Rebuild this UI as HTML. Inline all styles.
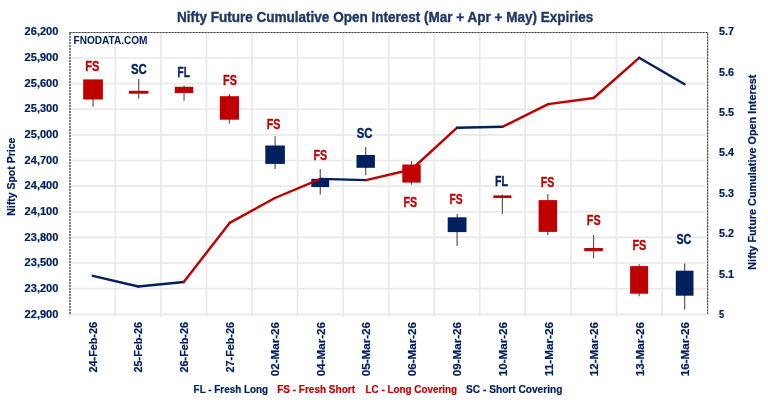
<!DOCTYPE html><html><head><meta charset="utf-8"><title>Nifty Future Cumulative Open Interest</title>
<style>html,body{margin:0;padding:0;background:#fff;}svg{display:block;filter:blur(0.35px);}text{font-family:"Liberation Sans", sans-serif;font-weight:bold;}.t{stroke-width:0.2px;}</style></head><body>
<svg width="768" height="404" viewBox="0 0 768 404">
<rect x="0" y="0" width="768" height="404" fill="#fff"/>
<path d="M70.8 57.98H706.1M70.8 83.61H706.1M70.8 109.24H706.1M70.8 134.87H706.1M70.8 160.50H706.1M70.8 186.13H706.1M70.8 211.76H706.1M70.8 237.39H706.1M70.8 263.02H706.1M70.8 288.65H706.1M70.8 314.28H706.1M115.36 32.5V317.1M160.91 32.5V317.1M206.47 32.5V317.1M252.03 32.5V317.1M297.59 32.5V317.1M343.14 32.5V317.1M388.70 32.5V317.1M434.26 32.5V317.1M479.81 32.5V317.1M525.37 32.5V317.1M570.93 32.5V317.1M616.49 32.5V317.1M662.04 32.5V317.1M69.8 314.1V317.1" stroke="#E9E9E9" stroke-width="1.7" fill="none"/>
<path d="M70.0 314.1V32.5" stroke="#404040" stroke-width="1.3" fill="none" stroke-dasharray="2.3 0.7"/>
<path d="M69.4 32.5H707.6V314.1" stroke="#404040" stroke-width="1.2" fill="none" stroke-dasharray="2.3 0.7"/>
<rect x="71" y="33.5" width="79" height="11" fill="#fff"/>
<text x="73.5" y="43.8" font-size="10.2" fill="#002060" textLength="74" lengthAdjust="spacingAndGlyphs">FNODATA.COM</text>
<path d="M93.05 80.0V106.8" stroke="#595959" stroke-width="1.2"/>
<rect x="83.2" y="79.4" width="19.7" height="20.1" fill="#C00000"/>
<path d="M138.70 78.9V98.4" stroke="#595959" stroke-width="1.2"/>
<rect x="129.0" y="90.8" width="19.4" height="2.9" fill="#C00000"/>
<path d="M184.05 85.5V100.7" stroke="#595959" stroke-width="1.2"/>
<rect x="174.8" y="86.8" width="18.5" height="6.2" fill="#C00000"/>
<path d="M229.40 94.0V123.5" stroke="#595959" stroke-width="1.2"/>
<rect x="219.8" y="96.2" width="19.2" height="23.5" fill="#C00000"/>
<path d="M275.10 136.3V168.9" stroke="#595959" stroke-width="1.2"/>
<rect x="265.3" y="145.5" width="19.6" height="18.4" fill="#002060"/>
<path d="M320.25 168.9V194.5" stroke="#595959" stroke-width="1.2"/>
<rect x="311.3" y="178.8" width="17.9" height="8.3" fill="#002060"/>
<path d="M365.70 147.0V175.2" stroke="#595959" stroke-width="1.2"/>
<rect x="356.5" y="155.0" width="18.4" height="12.8" fill="#002060"/>
<path d="M411.50 160.9V184.7" stroke="#595959" stroke-width="1.2"/>
<rect x="402.3" y="164.5" width="18.4" height="18.1" fill="#C00000"/>
<path d="M457.10 213.9V245.9" stroke="#595959" stroke-width="1.2"/>
<rect x="447.7" y="217.3" width="18.8" height="14.8" fill="#002060"/>
<path d="M502.40 194.6V213.9" stroke="#595959" stroke-width="1.2"/>
<rect x="493.3" y="195.4" width="18.2" height="2.6" fill="#C00000"/>
<path d="M547.85 193.9V235.0" stroke="#595959" stroke-width="1.2"/>
<rect x="538.6" y="200.1" width="18.5" height="31.8" fill="#C00000"/>
<path d="M593.55 235.0V258.4" stroke="#595959" stroke-width="1.2"/>
<rect x="584.2" y="248.0" width="18.7" height="3.1" fill="#C00000"/>
<path d="M639.10 264.3V296.2" stroke="#595959" stroke-width="1.2"/>
<rect x="630.1" y="266.1" width="18.0" height="27.6" fill="#C00000"/>
<path d="M684.65 263.5V309.6" stroke="#595959" stroke-width="1.2"/>
<rect x="675.8" y="270.7" width="17.7" height="25.0" fill="#002060"/>
<path d="M92.8 275.8L138.3 286.5" stroke="#002060" stroke-width="2.4" stroke-linecap="round" fill="none"/>
<path d="M138.3 286.5L183.8 282.0" stroke="#002060" stroke-width="2.4" stroke-linecap="round" fill="none"/>
<path d="M183.8 282.0L229.6 222.9" stroke="#C00000" stroke-width="2.4" stroke-linecap="round" fill="none"/>
<path d="M229.6 222.9L274.9 198.0" stroke="#C00000" stroke-width="2.4" stroke-linecap="round" fill="none"/>
<path d="M274.9 198.0L320.5 178.9" stroke="#C00000" stroke-width="2.4" stroke-linecap="round" fill="none"/>
<path d="M320.5 178.9L366.0 180.1" stroke="#002060" stroke-width="2.4" stroke-linecap="round" fill="none"/>
<path d="M366.0 180.1L411.5 169.5" stroke="#C00000" stroke-width="2.4" stroke-linecap="round" fill="none"/>
<path d="M411.5 169.5L457.1 127.7" stroke="#C00000" stroke-width="2.4" stroke-linecap="round" fill="none"/>
<path d="M457.1 127.7L502.6 126.8" stroke="#002060" stroke-width="2.4" stroke-linecap="round" fill="none"/>
<path d="M502.6 126.8L548.2 104.1" stroke="#C00000" stroke-width="2.4" stroke-linecap="round" fill="none"/>
<path d="M548.2 104.1L593.7 98.0" stroke="#C00000" stroke-width="2.4" stroke-linecap="round" fill="none"/>
<path d="M593.7 98.0L639.1 57.8" stroke="#C00000" stroke-width="2.4" stroke-linecap="round" fill="none"/>
<path d="M639.1 57.8L684.6 84.2" stroke="#002060" stroke-width="2.4" stroke-linecap="round" fill="none"/>
<text x="85.2" y="71.3" font-size="15.2" fill="#C00000" stroke="#C00000" stroke-width="0.35" textLength="14.2" lengthAdjust="spacingAndGlyphs">FS</text>
<text x="131.0" y="73.7" font-size="15.2" fill="#002060" stroke="#002060" stroke-width="0.35" textLength="15.8" lengthAdjust="spacingAndGlyphs">SC</text>
<text x="177.5" y="76.7" font-size="15.2" fill="#002060" stroke="#002060" stroke-width="0.35" textLength="12.3" lengthAdjust="spacingAndGlyphs">FL</text>
<text x="223.0" y="84.7" font-size="15.2" fill="#C00000" stroke="#C00000" stroke-width="0.35" textLength="13.9" lengthAdjust="spacingAndGlyphs">FS</text>
<text x="266.7" y="128.9" font-size="15.2" fill="#C00000" stroke="#C00000" stroke-width="0.35" textLength="13.7" lengthAdjust="spacingAndGlyphs">FS</text>
<text x="313.4" y="159.5" font-size="15.2" fill="#C00000" stroke="#C00000" stroke-width="0.35" textLength="13.7" lengthAdjust="spacingAndGlyphs">FS</text>
<text x="356.8" y="137.8" font-size="15.2" fill="#002060" stroke="#002060" stroke-width="0.35" textLength="15.7" lengthAdjust="spacingAndGlyphs">SC</text>
<text x="403.4" y="206.8" font-size="15.2" fill="#C00000" stroke="#C00000" stroke-width="0.35" textLength="13.7" lengthAdjust="spacingAndGlyphs">FS</text>
<text x="449.5" y="203.5" font-size="15.2" fill="#C00000" stroke="#C00000" stroke-width="0.35" textLength="13.1" lengthAdjust="spacingAndGlyphs">FS</text>
<text x="495.1" y="185.5" font-size="15.2" fill="#002060" stroke="#002060" stroke-width="0.35" textLength="13.0" lengthAdjust="spacingAndGlyphs">FL</text>
<text x="540.7" y="187.3" font-size="15.2" fill="#C00000" stroke="#C00000" stroke-width="0.35" textLength="13.5" lengthAdjust="spacingAndGlyphs">FS</text>
<text x="586.8" y="225.1" font-size="15.2" fill="#C00000" stroke="#C00000" stroke-width="0.35" textLength="13.8" lengthAdjust="spacingAndGlyphs">FS</text>
<text x="632.4" y="249.9" font-size="15.2" fill="#C00000" stroke="#C00000" stroke-width="0.35" textLength="13.9" lengthAdjust="spacingAndGlyphs">FS</text>
<text x="676.4" y="243.9" font-size="15.2" fill="#002060" stroke="#002060" stroke-width="0.35" textLength="14.9" lengthAdjust="spacingAndGlyphs">SC</text>
<text x="58.4" y="35.1" font-size="10.5" class="t" fill="#002060" stroke="#002060" text-anchor="end" textLength="33.8" lengthAdjust="spacingAndGlyphs">26,200</text>
<text x="58.4" y="60.8" font-size="10.5" class="t" fill="#002060" stroke="#002060" text-anchor="end" textLength="33.8" lengthAdjust="spacingAndGlyphs">25,900</text>
<text x="58.4" y="86.5" font-size="10.5" class="t" fill="#002060" stroke="#002060" text-anchor="end" textLength="33.8" lengthAdjust="spacingAndGlyphs">25,600</text>
<text x="58.4" y="112.2" font-size="10.5" class="t" fill="#002060" stroke="#002060" text-anchor="end" textLength="33.8" lengthAdjust="spacingAndGlyphs">25,300</text>
<text x="58.4" y="137.9" font-size="10.5" class="t" fill="#002060" stroke="#002060" text-anchor="end" textLength="33.8" lengthAdjust="spacingAndGlyphs">25,000</text>
<text x="58.4" y="163.6" font-size="10.5" class="t" fill="#002060" stroke="#002060" text-anchor="end" textLength="33.8" lengthAdjust="spacingAndGlyphs">24,700</text>
<text x="58.4" y="189.3" font-size="10.5" class="t" fill="#002060" stroke="#002060" text-anchor="end" textLength="33.8" lengthAdjust="spacingAndGlyphs">24,400</text>
<text x="58.4" y="215.0" font-size="10.5" class="t" fill="#002060" stroke="#002060" text-anchor="end" textLength="33.8" lengthAdjust="spacingAndGlyphs">24,100</text>
<text x="58.4" y="240.7" font-size="10.5" class="t" fill="#002060" stroke="#002060" text-anchor="end" textLength="33.8" lengthAdjust="spacingAndGlyphs">23,800</text>
<text x="58.4" y="266.4" font-size="10.5" class="t" fill="#002060" stroke="#002060" text-anchor="end" textLength="33.8" lengthAdjust="spacingAndGlyphs">23,500</text>
<text x="58.4" y="292.1" font-size="10.5" class="t" fill="#002060" stroke="#002060" text-anchor="end" textLength="33.8" lengthAdjust="spacingAndGlyphs">23,200</text>
<text x="58.4" y="317.8" font-size="10.5" class="t" fill="#002060" stroke="#002060" text-anchor="end" textLength="33.8" lengthAdjust="spacingAndGlyphs">22,900</text>
<text x="719" y="35.1" font-size="10.5" class="t" fill="#002060" stroke="#002060" textLength="15.0" lengthAdjust="spacingAndGlyphs">5.7</text>
<text x="719" y="75.5" font-size="10.5" class="t" fill="#002060" stroke="#002060" textLength="15.0" lengthAdjust="spacingAndGlyphs">5.6</text>
<text x="719" y="115.9" font-size="10.5" class="t" fill="#002060" stroke="#002060" textLength="15.0" lengthAdjust="spacingAndGlyphs">5.5</text>
<text x="719" y="156.3" font-size="10.5" class="t" fill="#002060" stroke="#002060" textLength="15.0" lengthAdjust="spacingAndGlyphs">5.4</text>
<text x="719" y="196.7" font-size="10.5" class="t" fill="#002060" stroke="#002060" textLength="15.0" lengthAdjust="spacingAndGlyphs">5.3</text>
<text x="719" y="237.1" font-size="10.5" class="t" fill="#002060" stroke="#002060" textLength="15.0" lengthAdjust="spacingAndGlyphs">5.2</text>
<text x="719" y="277.5" font-size="10.5" class="t" fill="#002060" stroke="#002060" textLength="15.0" lengthAdjust="spacingAndGlyphs">5.1</text>
<text x="719" y="317.9" font-size="10.5" class="t" fill="#002060" stroke="#002060" textLength="5.2" lengthAdjust="spacingAndGlyphs">5</text>
<text transform="translate(96.9,322) rotate(-90)" x="0" y="0" font-size="11.5" class="t" fill="#002060" stroke="#002060" text-anchor="end" textLength="50.5" lengthAdjust="spacingAndGlyphs">24-Feb-26</text>
<text transform="translate(142.4,322) rotate(-90)" x="0" y="0" font-size="11.5" class="t" fill="#002060" stroke="#002060" text-anchor="end" textLength="50.5" lengthAdjust="spacingAndGlyphs">25-Feb-26</text>
<text transform="translate(188.0,322) rotate(-90)" x="0" y="0" font-size="11.5" class="t" fill="#002060" stroke="#002060" text-anchor="end" textLength="50.5" lengthAdjust="spacingAndGlyphs">26-Feb-26</text>
<text transform="translate(233.6,322) rotate(-90)" x="0" y="0" font-size="11.5" class="t" fill="#002060" stroke="#002060" text-anchor="end" textLength="50.5" lengthAdjust="spacingAndGlyphs">27-Feb-26</text>
<text transform="translate(279.1,322) rotate(-90)" x="0" y="0" font-size="11.5" class="t" fill="#002060" stroke="#002060" text-anchor="end" textLength="54.2" lengthAdjust="spacingAndGlyphs">02-Mar-26</text>
<text transform="translate(324.7,322) rotate(-90)" x="0" y="0" font-size="11.5" class="t" fill="#002060" stroke="#002060" text-anchor="end" textLength="54.2" lengthAdjust="spacingAndGlyphs">04-Mar-26</text>
<text transform="translate(370.2,322) rotate(-90)" x="0" y="0" font-size="11.5" class="t" fill="#002060" stroke="#002060" text-anchor="end" textLength="54.2" lengthAdjust="spacingAndGlyphs">05-Mar-26</text>
<text transform="translate(415.8,322) rotate(-90)" x="0" y="0" font-size="11.5" class="t" fill="#002060" stroke="#002060" text-anchor="end" textLength="54.2" lengthAdjust="spacingAndGlyphs">06-Mar-26</text>
<text transform="translate(461.3,322) rotate(-90)" x="0" y="0" font-size="11.5" class="t" fill="#002060" stroke="#002060" text-anchor="end" textLength="54.2" lengthAdjust="spacingAndGlyphs">09-Mar-26</text>
<text transform="translate(506.9,322) rotate(-90)" x="0" y="0" font-size="11.5" class="t" fill="#002060" stroke="#002060" text-anchor="end" textLength="54.2" lengthAdjust="spacingAndGlyphs">10-Mar-26</text>
<text transform="translate(552.5,322) rotate(-90)" x="0" y="0" font-size="11.5" class="t" fill="#002060" stroke="#002060" text-anchor="end" textLength="54.2" lengthAdjust="spacingAndGlyphs">11-Mar-26</text>
<text transform="translate(598.0,322) rotate(-90)" x="0" y="0" font-size="11.5" class="t" fill="#002060" stroke="#002060" text-anchor="end" textLength="54.2" lengthAdjust="spacingAndGlyphs">12-Mar-26</text>
<text transform="translate(643.6,322) rotate(-90)" x="0" y="0" font-size="11.5" class="t" fill="#002060" stroke="#002060" text-anchor="end" textLength="54.2" lengthAdjust="spacingAndGlyphs">13-Mar-26</text>
<text transform="translate(689.1,322) rotate(-90)" x="0" y="0" font-size="11.5" class="t" fill="#002060" stroke="#002060" text-anchor="end" textLength="54.2" lengthAdjust="spacingAndGlyphs">16-Mar-26</text>
<text transform="translate(15.3,176.7) rotate(-90)" font-size="11" class="t" fill="#002060" stroke="#002060" text-anchor="middle" textLength="78" lengthAdjust="spacingAndGlyphs">Nifty Spot Price</text>
<text transform="translate(756.2,172.2) rotate(-90)" font-size="11" class="t" fill="#002060" stroke="#002060" text-anchor="middle" textLength="195" lengthAdjust="spacingAndGlyphs">Nifty Future Cumulative Open Interest</text>
<text x="176.9" y="21.8" font-size="15.4" fill="#1F3864" stroke="#1F3864" stroke-width="0.4" textLength="416.5" lengthAdjust="spacingAndGlyphs">Nifty Future Cumulative Open Interest (Mar + Apr + May) Expiries</text>
<text x="193.6" y="392.7" font-size="11.5" class="t" fill="#002060" stroke="#002060" textLength="74.5" lengthAdjust="spacingAndGlyphs">FL - Fresh Long</text>
<text x="277.2" y="392.7" font-size="11.5" class="t" fill="#C00000" stroke="#C00000" textLength="77.8" lengthAdjust="spacingAndGlyphs">FS - Fresh Short</text>
<text x="365.5" y="392.7" font-size="11.5" class="t" fill="#C00000" stroke="#C00000" textLength="91.6" lengthAdjust="spacingAndGlyphs">LC - Long Covering</text>
<text x="466.1" y="392.7" font-size="11.5" class="t" fill="#002060" stroke="#002060" textLength="96.3" lengthAdjust="spacingAndGlyphs">SC - Short Covering</text>
</svg></body></html>
